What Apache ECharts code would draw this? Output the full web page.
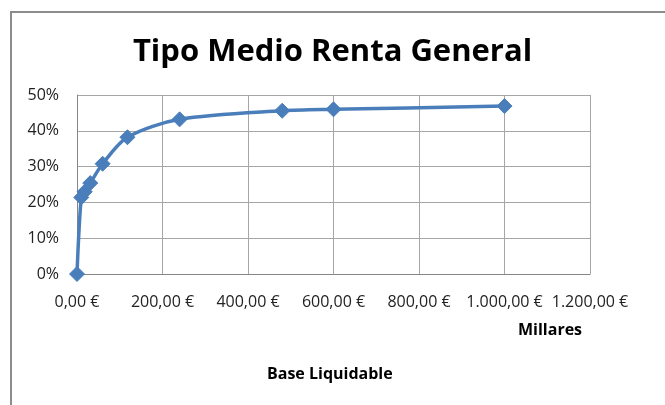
<!DOCTYPE html>
<html><head><meta charset="utf-8">
<script src="https://cdn.jsdelivr.net/npm/echarts@6/dist/echarts.min.js"></script>
<style>html,body{margin:0;padding:0;background:#fff}#c{width:665px;height:405px}
#frame{position:absolute;left:10px;top:11px;width:700px;height:450px;border:2px solid #8c8c8c;box-sizing:border-box;pointer-events:none}</style>
</head><body><div id="c"></div><div id="frame"></div>
<script>
const baseMiles = [0, 10, 18, 31, 60, 118, 240, 480, 600, 1000];
const tipoMedio = [0, 0.214, 0.230, 0.254, 0.308, 0.382, 0.432, 0.456, 0.460, 0.469];
const titleText = 'Tipo Medio Renta General';
const xUnitLabel = 'Millares';
const xAxisTitle = 'Base Liquidable';

function fmtEuro(v){
  const s = Math.round(v).toString().replace(/\B(?=(\d{3})+(?!\d))/g,'.');
  return s + ',00 €';
}
const chart = echarts.init(document.getElementById('c'), null, {renderer:'canvas'});
const font = 'Open Sans';
chart.setOption({
  animation:false,
  backgroundColor:'#fff',
  title:{text:titleText,left:'center',top:32,textStyle:{fontFamily:font,fontWeight:'bold',fontSize:31,color:'#000'}},
  grid:{left:77,right:75,top:95,bottom:131},
  xAxis:{type:'value',min:0,max:1200,interval:200,
    axisLine:{show:true,lineStyle:{color:'#868686',width:1}},
    axisTick:{show:false},
    splitLine:{show:true,lineStyle:{color:'#a6a6a6',width:1}},
    axisLabel:{formatter:fmtEuro,fontFamily:font,fontSize:16,color:'#222',margin:20}},
  yAxis:{type:'value',min:0,max:0.5,interval:0.1,
    axisLine:{show:true,lineStyle:{color:'#868686',width:1}},
    axisTick:{show:false},
    splitLine:{show:true,lineStyle:{color:'#a6a6a6',width:1}},
    axisLabel:{formatter:v=>Math.round(v*100)+'%',fontFamily:font,fontSize:16,color:'#222',margin:18}},
  graphic:[
    {type:'text',left:518,top:322,style:{text:xUnitLabel,font:'bold 16px "Open Sans"',fill:'#000'}},
    {type:'text',left:267,top:366,style:{text:xAxisTitle,font:'bold 16px "Open Sans"',fill:'#000'}}
  ],
  series:[{type:'line',data:baseMiles.map((x,i)=>[x,tipoMedio[i]]),smooth:0.3,clip:false,
    symbol:'diamond',symbolSize:15,
    lineStyle:{color:'#4a7ebb',width:3.5},
    itemStyle:{color:'#4a7ebb',borderColor:'#4a7ebb'}}]
});
</script></body></html>
